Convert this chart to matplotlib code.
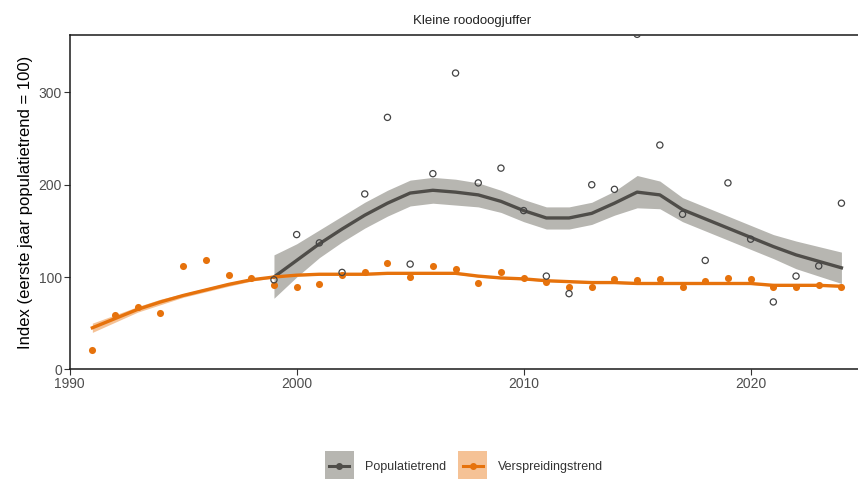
import matplotlib
matplotlib.use("Agg")
import matplotlib.pyplot as plt
import numpy as np
from matplotlib.patches import Rectangle
from matplotlib.lines import Line2D
from matplotlib.legend_handler import HandlerBase

plt.rcParams['font.family'] = ['Liberation Sans', 'DejaVu Sans']

title = "Kleine roodoogjuffer"
ylabel = "Index (eerste jaar populatietrend = 100)"

# Verspreidingstrend (distribution), 1991-2024
vers_years = list(range(1991, 2025))
vers_points = [21, 59, 68, 61, 112, 118, 102, 99, 91, 89, 92, 102, 105, 115, 100, 112, 109,
               94, 105, 99, 95, 89, 89, 98, 97, 98, 89, 96, 99, 98, 89, 89, 91, 89]
vers_trend = [45, 55, 65, 73, 80, 86, 92, 97, 100, 102, 103, 103, 103, 104, 104, 104, 104,
              101, 99, 98, 96, 95, 94, 94, 93, 93, 93, 93, 93, 93, 91, 91, 91, 90]
vers_lower = [40, 51, 62, 70, 78, 84, 90, 95.5, 99, 101, 102, 102, 102, 103, 103, 103, 103,
              100, 98, 97, 95, 94, 93, 93, 92, 92, 92, 92, 92, 92, 90, 90, 90, 89]
vers_upper = [50, 59, 68, 76, 82, 88, 94, 98.5, 101, 103, 104, 104, 104, 105, 105, 105, 105,
              102, 100, 99, 97, 96, 95, 95, 94, 94, 94, 94, 94, 94, 92, 92, 92, 91]

# Populatietrend (population), 1999-2024
pop_years = list(range(1999, 2025))
pop_points = [97, 146, 137, 105, 190, 273, 114, 212, 321, 202, 218, 172, 101, 82, 200, 195,
              363, 243, 168, 118, 202, 141, 73, 101, 112, 180]
pop_trend = [100, 118, 136, 152, 167, 180, 191, 194, 192, 189, 182, 172, 164, 164, 169, 180,
             192, 189, 173, 163, 153, 143, 133, 124, 117, 110]
pop_lower = [77, 100, 121, 138, 153, 166, 177, 180, 178, 176, 170, 160, 152, 152, 157, 167,
             175, 174, 160, 150, 140, 130, 120, 109, 101, 93]
pop_upper = [124, 136, 151, 166, 181, 194, 205, 208, 206, 202, 194, 184, 176, 176, 181, 193,
             210, 204, 186, 176, 166, 156, 146, 139, 133, 127]

xticks = [1990, 2000, 2010, 2020]
yticks = [0, 100, 200, 300]
legend_labels = ["Populatietrend", "Verspreidingstrend"]

grey_line = "#4f4d49"
grey_band = "#b7b6b1"
orange = "#e6720c"
orange_band = "#f5c296"

fig = plt.figure(figsize=(8.58, 4.79), dpi=100)
ax = fig.add_axes([0.0812, 0.229, 0.9188, 0.698])

ax.fill_between(pop_years, pop_lower, pop_upper, color=grey_band, lw=0, zorder=1)
ax.fill_between(vers_years, vers_lower, vers_upper, color=orange_band, lw=0, zorder=2)
ax.plot(pop_years, pop_trend, color=grey_line, lw=2.4, zorder=3)
ax.plot(vers_years, vers_trend, color=orange, lw=2.4, zorder=4)
ax.scatter(vers_years, vers_points, s=26, marker='o', color=orange, lw=0, zorder=5)
ax.scatter(pop_years, pop_points, s=20, marker='o', facecolors='none',
           edgecolors='#444444', linewidths=0.9, zorder=6)

ax.set_xlim(1990, 2024.73)
ax.set_ylim(0, 362.3)
ax.set_xticks(xticks)
ax.set_yticks(yticks)
ax.tick_params(axis='both', direction='out', length=4, width=0.8, color='#333333',
               labelcolor='#4d4d4d', labelsize=10, pad=1.5)
for s in ['left', 'top', 'bottom']:
    ax.spines[s].set_linewidth(1.1)
    ax.spines[s].set_color('#1a1a1a')
ax.spines['right'].set_visible(False)
ax.set_ylabel(ylabel, fontsize=12, color='black', labelpad=4)
ax.set_title(title, fontsize=9.5, color='#222222', pad=8, x=0.51)


class KeyHandler(HandlerBase):
    def __init__(self, band, line):
        super().__init__()
        self.band = band
        self.line = line

    def create_artists(self, legend, orig_handle, xdescent, ydescent, width, height,
                       fontsize, trans):
        r = Rectangle((-xdescent, -ydescent - 7), width, height + 14,
                      facecolor=self.band, edgecolor='none', transform=trans)
        yc = -ydescent + height / 2
        l = Line2D([-xdescent + 3, -xdescent + width - 3], [yc, yc], color=self.line,
                   lw=2.2, transform=trans)
        m = Line2D([-xdescent + width / 2], [yc], marker='o', ms=4, color=self.line,
                   transform=trans)
        return [r, l, m]


h1 = Line2D([], [])
h2 = Line2D([], [])
fig.legend([h1, h2], legend_labels, loc='center', bbox_to_anchor=(0.541, 0.025),
           ncol=2, frameon=False, fontsize=9, handlelength=2.3, handleheight=0.9,
           columnspacing=1.0, handletextpad=0.9,
           handler_map={h1: KeyHandler(grey_band, grey_line),
                        h2: KeyHandler(orange_band, orange)},
           labelcolor='#333333')

fig.savefig("out.png", dpi=100)
